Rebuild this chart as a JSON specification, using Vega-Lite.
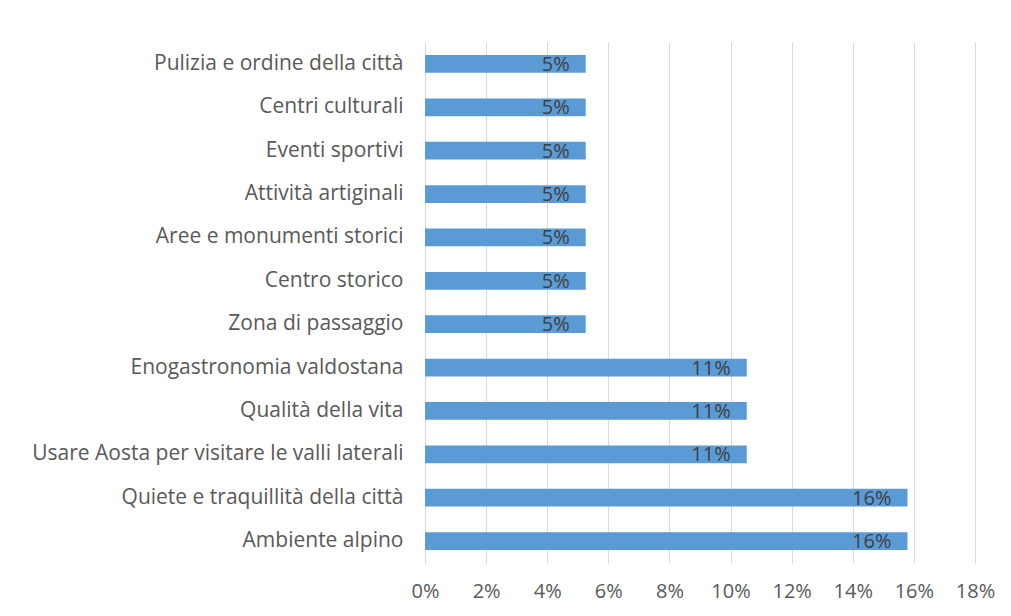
{
  "$schema": "https://vega.github.io/schema/vega-lite/v6.json",
  "autosize": "none",
  "width": 550,
  "height": 521,
  "padding": {"left": 425, "top": 42, "right": 36, "bottom": 53},
  "background": "white",
  "config": {
    "view": {"stroke": null},
    "font": "Open Sans"
  },
  "data": {
    "values": [
      {"voce": "Pulizia e ordine della città", "quota": 0.0526},
      {"voce": "Centri culturali", "quota": 0.0526},
      {"voce": "Eventi sportivi", "quota": 0.0526},
      {"voce": "Attività artiginali", "quota": 0.0526},
      {"voce": "Aree e monumenti storici", "quota": 0.0526},
      {"voce": "Centro storico", "quota": 0.0526},
      {"voce": "Zona di passaggio ", "quota": 0.0526},
      {"voce": "Enogastronomia valdostana", "quota": 0.1053},
      {"voce": "Qualità della vita", "quota": 0.1053},
      {"voce": "Usare Aosta per visitare le valli laterali", "quota": 0.1053},
      {"voce": "Quiete e traquillità della città", "quota": 0.1579},
      {"voce": "Ambiente alpino", "quota": 0.1579}
    ]
  },
  "encoding": {
    "y": {
      "field": "voce",
      "type": "nominal",
      "sort": null,
      "title": null,
      "scale": {"paddingInner": 0.59, "paddingOuter": 0.3},
      "axis": {
        "domain": false,
        "ticks": false,
        "labelFontSize": 21,
        "labelColor": "#595959",
        "labelPadding": 22,
        "labelLimit": 420
      }
    },
    "x": {
      "field": "quota",
      "type": "quantitative",
      "title": null,
      "scale": {"domain": [0, 0.18], "nice": false},
      "axis": {
        "format": ".0%",
        "values": [0, 0.02, 0.04, 0.06, 0.08, 0.1, 0.12, 0.14, 0.16, 0.18],
        "domain": false,
        "ticks": false,
        "grid": true,
        "gridColor": "#d9d9d9",
        "labelFlush": false,
        "labelOverlap": false,
        "labelFontSize": 20,
        "labelColor": "#595959",
        "labelPadding": 18
      }
    }
  },
  "layer": [
    {
      "mark": {"type": "bar", "color": "#5b9bd5"}
    },
    {
      "mark": {
        "type": "text",
        "align": "right",
        "baseline": "middle",
        "dx": -16,
        "dy": 1,
        "fontSize": 20,
        "color": "#404040"
      },
      "encoding": {
        "text": {"field": "quota", "type": "quantitative", "format": ".0%"}
      }
    }
  ]
}
